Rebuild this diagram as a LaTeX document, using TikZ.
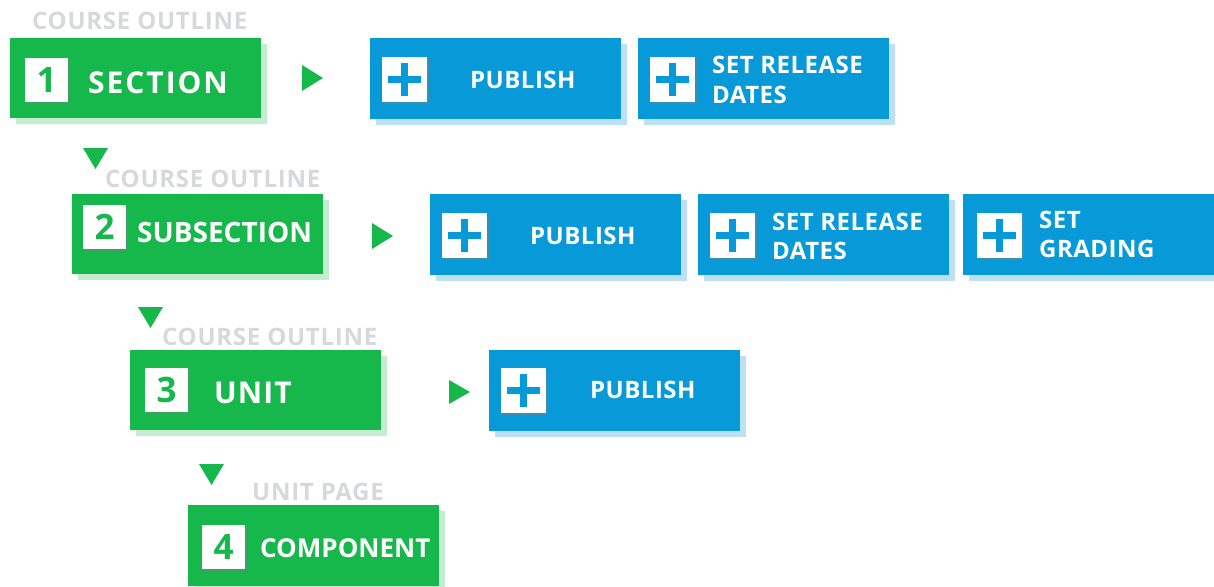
\documentclass[tikz,border=0pt]{standalone}
\usepackage{fontspec}
\setmainfont{Open Sans}
\usetikzlibrary{shadows}
\definecolor{gr}{RGB}{22,184,76}
\definecolor{grsh}{RGB}{196,236,206}
\definecolor{bl}{RGB}{8,154,216}
\definecolor{blsh}{RGB}{190,224,243}
\definecolor{lbl}{RGB}{214,216,219}
\definecolor{sqsh}{RGB}{120,130,130}
\begin{document}
\begin{tikzpicture}[x=1pt,y=-1pt,
  box/.style={anchor=north west, inner sep=0pt, outer sep=0pt},
  greenbox/.style={box, fill=gr, minimum width=251pt, minimum height=80pt,
    drop shadow={shadow xshift=6pt, shadow yshift=-6pt, fill=grsh, opacity=1}},
  bluebox/.style={box, fill=bl, minimum width=251pt, minimum height=81pt,
    drop shadow={shadow xshift=6pt, shadow yshift=-6pt, fill=blsh, opacity=1}},
  sqshadow/.style={drop shadow={shadow xshift=1.5pt, shadow yshift=-1.5pt, fill=sqsh, opacity=.45}},
  numsq/.style={box, fill=white, minimum width=43pt, minimum height=44pt, sqshadow,
    text=gr, font=\bfseries\fontsize{35}{35}\selectfont},
  plussq/.style={box, fill=white, minimum width=45pt, minimum height=45pt, sqshadow},
  gtext/.style={anchor=base west, inner sep=0pt, text=white, font=\bfseries\fontsize{30}{30}\selectfont},
  btext/.style={anchor=base west, inner sep=0pt, text=white,
    font=\bfseries\fontsize{24}{24}\selectfont\addfontfeatures{LetterSpace=2}},
  lbltext/.style={anchor=base west, inner sep=0pt, text=lbl,
    font=\bfseries\fontsize{24}{24}\selectfont\addfontfeatures{LetterSpace=3}},
  tri/.style={fill=gr}
]
\useasboundingbox (0,0) rectangle (1214,586);

% ---------- labels ----------
\node[lbltext] (l1) at (32,30) {COURSE OUTLINE};
\node[lbltext] (l2) at (105,187) {COURSE OUTLINE};
\node[lbltext] (l3) at (162,345) {COURSE OUTLINE};
\node[lbltext] (l4) at (252,500) {UNIT PAGE};

% ---------- green boxes ----------
\node[greenbox] (s1) at (10,38) {};
\node[greenbox] (s2) at (72,194) {};
\node[greenbox] (s3) at (130,350) {};
\node[greenbox, minimum height=81pt] (s4) at (188,505) {};

\node[numsq] (n1) at (25,58) {1};
\node[numsq] (n2) at (83,205) {2};
\node[numsq] (n3) at (145,368) {3};
\node[numsq] (n4) at (202,525) {4};

\node[gtext, font=\bfseries\fontsize{30}{30}\selectfont\addfontfeatures{LetterSpace=6.5}] (t1) at (88,93) {SECTION};
\node[gtext, font=\bfseries\fontsize{28}{28}\selectfont] (t2) at (137,242) {SUBSECTION};
\node[gtext, font=\bfseries\fontsize{30}{30}\selectfont\addfontfeatures{LetterSpace=3.5}] (t3) at (214,403) {UNIT};
\node[gtext, font=\bfseries\fontsize{26}{26}\selectfont] (t4) at (260,557) {COMPONENT};

% ---------- down triangles ----------
\fill[tri] (83,148) -- (108,148) -- (95.5,169) -- cycle;
\fill[tri] (138,307) -- (163,307) -- (150.5,328) -- cycle;
\fill[tri] (199,464) -- (224,464) -- (211.5,485) -- cycle;

% ---------- right triangles ----------
\fill[tri] (302,65) -- (323,78) -- (302,91) -- cycle;
\fill[tri] (372,223) -- (393,236) -- (372,249) -- cycle;
\fill[tri] (449,380) -- (470,392) -- (449,404) -- cycle;

% ---------- blue boxes ----------
\node[bluebox] (b11) at (370,38) {};
\node[bluebox] (b12) at (638,38) {};
\node[bluebox] (b21) at (430,194) {};
\node[bluebox] (b22) at (698,194) {};
\node[bluebox, minimum width=252pt] (b23) at (963,194) {};
\node[bluebox] (b31) at (489,350) {};

% plus icons
\foreach \n/\x/\y in {p11/382/57, p12/650/57, p21/442/213, p22/710/213, p23/977/213, p31/501/368}{
  \node[plussq] (\n) at (\x,\y) {};
  \fill[bl] ([xshift=-3.5pt]\n.center) ++(0,-16.5) rectangle ++(7,33);
  \fill[bl] ([yshift=3.5pt]\n.center) ++(-16.5,0) rectangle ++(33,7);
}

% blue texts
\node[btext] (bt11) at (470,88) {PUBLISH};
\node[btext] (bt12a) at (712,74) {SET RELEASE};
\node[btext] (bt12b) at (712,103) {DATES};
\node[btext] (bt21) at (530,244) {PUBLISH};
\node[btext] (bt22a) at (772,230) {SET RELEASE};
\node[btext] (bt22b) at (772,259) {DATES};
\node[btext] (bt23a) at (1039,228) {SET};
\node[btext] (bt23b) at (1039,257) {GRADING};
\node[btext] (bt31) at (590,398) {PUBLISH};
\end{tikzpicture}
\end{document}
